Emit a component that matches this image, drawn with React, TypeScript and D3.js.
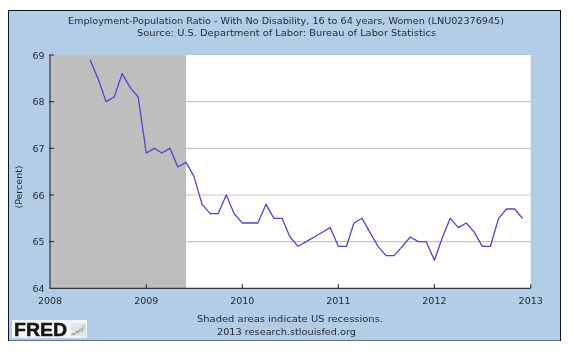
import React from "react";
import * as d3 from "d3";

const startDate = "2008-06-01";
const values = [
  68.9, 68.5, 68.0, 68.1, 68.6, 68.3, 68.1,
  66.9, 67.0, 66.9, 67.0, 66.6, 66.7, 66.4, 65.8, 65.6, 65.6, 66.0, 65.6,
  65.4, 65.4, 65.4, 65.8, 65.5, 65.5, 65.1, 64.9, 65.0, 65.1, 65.2, 65.3,
  64.9, 64.9, 65.4, 65.5, 65.2, 64.9, 64.7, 64.7, 64.9, 65.1, 65.0, 65.0,
  64.6, 65.1, 65.5, 65.3, 65.4, 65.2, 64.9, 64.9, 65.5, 65.7, 65.7, 65.5,
];
const yTicks = [64, 65, 66, 67, 68, 69];
const xTicks = [2008, 2009, 2010, 2011, 2012, 2013];
const recession = ["2008-01-01", "2009-06-01"];
const titleLines = [
  "Employment-Population Ratio - With No Disability, 16 to 64 years, Women (LNU02376945)",
  "Source: U.S. Department of Labor: Bureau of Labor Statistics",
];
const footerLines = ["Shaded areas indicate US recessions.", "2013 research.stlouisfed.org"];
const iconLineA = [1, 2, 1.6, 3.4, 2.8, 5, 4.2, 6.6, 7.4];
const iconLineB = [0.6, 1.2, 1, 2.4, 2, 3.6, 3, 4.6, 5.6];

const FONT = "'DejaVu Sans', Verdana, sans-serif";
const W = 574, H = 356;
const L = 50, R = 530.7, T = 55, B = 288.3;
const TEXT = "#1f2730";

const parse = d3.utcParse("%Y-%m-%d");
const x = d3.scaleUtc()
  .domain([new Date(Date.UTC(2008, 0, 1)), new Date(Date.UTC(2013, 0, 1))])
  .range([L, R]);
const y = d3.scaleLinear().domain([64, 69]).range([B, T]);

const start = parse(startDate) as Date;
const points = values.map((v, i) => ({ date: d3.utcMonth.offset(start, i), v }));
const linePath = d3.line<{ date: Date; v: number }>().x((d) => x(d.date)).y((d) => y(d.v))(points) as string;

const iconX = d3.scaleLinear().domain([0, iconLineA.length - 1]).range([71.5, 85]);
const iconY = d3.scaleLinear().domain([0, 9]).range([336, 323]);
const iconPath = (arr: number[]) =>
  d3.line<number>().x((_, i) => iconX(i)).y((d) => iconY(d))(arr) as string;

export default function App() {
  const rx0 = x(parse(recession[0]) as Date);
  const rx1 = x(parse(recession[1]) as Date);
  return (
    <svg
      width={W}
      height={H}
      viewBox={`0 0 ${W} ${H}`}
      style={{ position: "fixed", left: 0, top: 0, display: "block", background: "#fff" }}
      fontFamily={FONT}
    >
      <defs>
        <filter id="soft" x="0" y="0" width="100%" height="100%">
          <feGaussianBlur stdDeviation="0.35" />
        </filter>
      </defs>
      <g filter="url(#soft)">
        <rect x={8.5} y={10.5} width={552} height={330.5} fill="#b3cde6" stroke="#0d1622" strokeWidth={1} />
        <rect x={L} y={T} width={R - L} height={B - T} fill="#ffffff" />
        {yTicks.filter((t) => t > 64 && t < 69).map((t) => (
          <line key={t} x1={L} x2={R} y1={y(t)} y2={y(t)} stroke="#c6c6c6" strokeWidth={1.2} />
        ))}
        <rect x={rx0} y={T} width={rx1 - rx0} height={B - T} fill="#bebebe" />
        <path d={linePath} fill="none" stroke="#4a46cc" strokeWidth={1.3} strokeLinejoin="round" />
        <g stroke="#34393f" strokeWidth={1.2} fill="none">
          <line x1={L} x2={L} y1={T} y2={B + 0.5} />
          <line x1={L} x2={R} y1={B} y2={B} />
          {yTicks.filter((t) => t > 64).map((t) => (
            <line key={t} x1={L - 1} x2={L + 4} y1={y(t)} y2={y(t)} />
          ))}
          {xTicks.filter((t) => t > 2008).map((t) => (
            <line key={t} x1={x(new Date(Date.UTC(t, 0, 1)))} x2={x(new Date(Date.UTC(t, 0, 1)))} y1={B - 4} y2={B} />
          ))}
        </g>
        <g fontSize={9.5} fill={TEXT}>
          <text x={68} y={23.5} textLength={436} lengthAdjust="spacingAndGlyphs">{titleLines[0]}</text>
          <text x={137} y={36} textLength={299} lengthAdjust="spacingAndGlyphs">{titleLines[1]}</text>
          {yTicks.map((t) => (
            <text key={t} x={44.5} y={y(t) + 3.7} textAnchor="end">{t}</text>
          ))}
          {xTicks.map((t) => (
            <text key={t} x={x(new Date(Date.UTC(t, 0, 1)))} y={304} textAnchor="middle">{t}</text>
          ))}
          <text transform="translate(22,187) rotate(-90)" textAnchor="middle">(Percent)</text>
          <text x={197} y={322} textLength={186} lengthAdjust="spacingAndGlyphs">{footerLines[0]}</text>
          <text x={217} y={334.5} textLength={139} lengthAdjust="spacingAndGlyphs">{footerLines[1]}</text>
        </g>
        <rect x={12} y={320} width={75} height={18} fill="#f2f5f8" />
        <text x={14} y={336} fontFamily="'Liberation Sans', Arial, sans-serif" fontWeight={700} fontSize={18.2} fill="#151515" stroke="#151515" strokeWidth={0.5} textLength={53} lengthAdjust="spacingAndGlyphs">FRED</text>
        <rect x={71} y={323} width={15} height={13} fill="#dfe5ea" />
        <path d={iconPath(iconLineA)} fill="none" stroke="#8aa8c8" strokeWidth={1} />
        <path d={iconPath(iconLineB)} fill="none" stroke="#9ab07a" strokeWidth={1} />
      </g>
    </svg>
  );
}
